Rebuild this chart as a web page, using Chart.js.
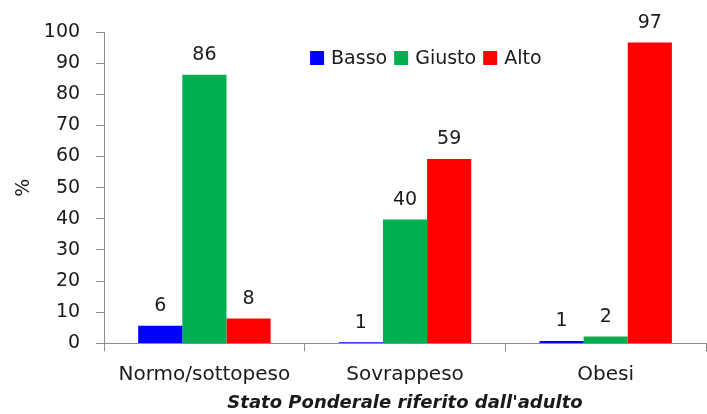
<!DOCTYPE html>
<html>
<head>
<meta charset="utf-8">
<script src="https://cdn.jsdelivr.net/npm/chart.js@4.4.1/dist/chart.umd.min.js"></script>
<style>
  html, body { margin: 0; padding: 0; background: #fff; }
  #wrap { width: 707px; height: 414px; }
</style>
</head>
<body>
<div id="wrap"><canvas id="PonderaleChart"></canvas></div>
<script>
// categorie e serie
const categories = ['Normo/sottopeso', 'Sovrappeso', 'Obesi'];
const bassoValues = [5.7, 0.4, 0.8];
const giustoValues = [86.3, 39.8, 2.2];
const altoValues = [8.0, 59.2, 96.6];
// etichette mostrate sopra le barre
const bassoLabels = ['6', '1', '1'];
const giustoLabels = ['86', '40', '2'];
const altoLabels = ['8', '59', '97'];
const yTicks = [0, 10, 20, 30, 40, 50, 60, 70, 80, 90, 100];

const FONT = "'DejaVu Sans', sans-serif";
const allLabels = [bassoLabels, giustoLabels, altoLabels];

// scrive il valore sopra ogni barra
const valueLabels = {
  id: 'valueLabels',
  afterDatasetsDraw(chart) {
    const ctx = chart.ctx;
    ctx.save();
    ctx.font = '19px ' + FONT;
    ctx.fillStyle = '#1a1a1a';
    ctx.textAlign = 'center';
    ctx.textBaseline = 'bottom';
    chart.data.datasets.forEach(function(ds, i) {
      chart.getDatasetMeta(i).data.forEach(function(bar, j) {
        ctx.fillText(allLabels[i][j], bar.x, bar.y - 10);
      });
    });
    ctx.restore();
  }
};

// legenda dentro l'area del grafico, in alto
const innerLegend = {
  id: 'innerLegend',
  afterDraw(chart) {
    const ctx = chart.ctx;
    const area = chart.chartArea;
    let x = area.left + 206;
    const yc = area.top + 26;
    ctx.save();
    ctx.font = '19px ' + FONT;
    ctx.fillStyle = '#1a1a1a';
    ctx.textAlign = 'left';
    ctx.textBaseline = 'middle';
    chart.data.datasets.forEach(function(ds) {
      ctx.fillStyle = ds.backgroundColor;
      ctx.fillRect(x, yc - 7, 14, 14);
      x += 21;
      ctx.fillStyle = '#1a1a1a';
      ctx.fillText(ds.label, x, yc + 1);
      x += ctx.measureText(ds.label).width + 7;
    });
    ctx.restore();
  }
};

const ctx = document.getElementById('PonderaleChart');

new Chart(ctx, {
  type: 'bar',
  data: {
    labels: categories,
    datasets: [{
      label: 'Basso',
      data: bassoValues,
      backgroundColor: '#0000FF',
    },{
      label: 'Giusto',
      data: giustoValues,
      backgroundColor: '#00B050',
    },{
      label: 'Alto',
      data: altoValues,
      backgroundColor: '#FF0000',
    }]
  },
  plugins: [valueLabels, innerLegend],
  options: {
    responsive: true,
    maintainAspectRatio: false,
    animation: false,
    layout: { padding: { top: 32, right: 1, bottom: 0, left: 13 } },
    datasets: {
      bar: { categoryPercentage: 0.66, barPercentage: 1.0 }
    },
    plugins: {
      tooltip: { enabled: false },
      legend: { display: false }
    },
    scales: {
      x: {
        grid: { drawOnChartArea: false, tickLength: 8, color: '#8c8c8c', offset: true },
        border: { color: '#8c8c8c' },
        ticks: { color: '#1a1a1a', font: { family: FONT, size: 20 }, padding: 11 },
        title: {
          display: true,
          text: "Stato Ponderale riferito dall'adulto",
          color: '#1a1a1a',
          font: { family: FONT, size: 18, weight: 'bold', style: 'italic' },
          padding: { top: -5, bottom: 0 }
        }
      },
      y: {
        min: 0,
        max: 100,
        afterBuildTicks(axis) { axis.ticks = yTicks.map(v => ({ value: v })); },
        grid: { drawOnChartArea: false, tickLength: 8, color: '#8c8c8c' },
        border: { color: '#8c8c8c' },
        ticks: { color: '#1a1a1a', font: { family: FONT, size: 19 }, padding: 16 },
        title: {
          display: true,
          text: '%',
          color: '#1a1a1a',
          font: { family: FONT, size: 19 },
          padding: { top: 0, bottom: -8 }
        }
      }
    }
  }
});
</script>
</body>
</html>
